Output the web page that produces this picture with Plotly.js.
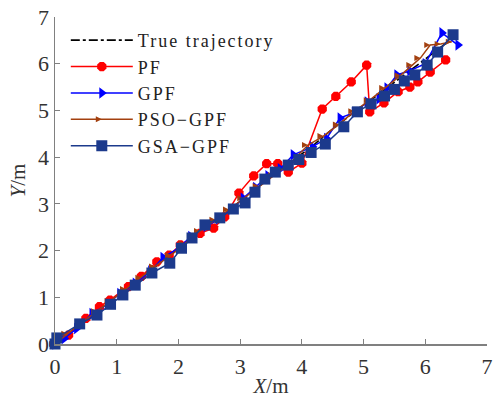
<!DOCTYPE html>
<html>
<head>
<meta charset="utf-8">
<script src="https://cdn.plot.ly/plotly-3.0.1.min.js"></script>
<style>html,body{margin:0;padding:0;background:#fff;}#chart{width:493px;height:398px;}
.legendtext{letter-spacing:2px;}</style>
</head>
<body>
<div id="chart"></div>
<script>
// True trajectory
const trueX = [0,0.2,0.45,0.7,0.95,1.2,1.45,1.7,1.95,2.2,2.45,2.7,2.95,3.2,3.45,3.7,3.95,4.2,4.45,4.7,4.95,5.2,5.45,5.7,5.95,6.2,6.35];
const trueY = [0,0.2,0.45,0.72,0.98,1.22,1.47,1.73,1.98,2.24,2.5,2.75,3.0,3.27,3.52,3.76,4.0,4.27,4.55,4.82,5.07,5.3,5.55,5.8,6.05,6.28,6.45];
// PF
const pfX = [0,0.22,0.5,0.72,0.89,1.19,1.4,1.65,1.85,2.03,2.35,2.57,2.75,2.98,3.22,3.43,3.61,3.78,4.0,4.33,4.55,4.8,5.05,5.1,5.33,5.56,5.75,5.88,6.08,6.33];
const pfY = [0,0.19,0.55,0.8,0.94,1.23,1.45,1.76,1.9,2.12,2.37,2.48,2.72,3.23,3.6,3.86,3.86,3.68,3.87,5.03,5.3,5.61,5.97,4.97,5.16,5.4,5.5,5.61,5.82,6.08];
// GPF
const gpfX = [0,0.15,0.35,0.6,0.85,1.05,1.3,1.55,1.75,2.0,2.2,2.45,2.65,2.85,3.05,3.25,3.45,3.65,3.86,4.17,4.4,4.62,4.85,5.06,5.25,5.38,5.54,5.75,6.0,6.27,6.53];
const gpfY = [0,0.12,0.33,0.65,0.85,1.08,1.3,1.56,1.85,2.05,2.3,2.52,2.68,2.88,3.12,3.35,3.6,3.75,4.05,4.22,4.4,4.84,4.95,5.18,5.25,5.48,5.76,5.85,6.0,6.66,6.4];
// PSO-GPF
const psoX = [0,0.2,0.42,0.68,0.9,1.15,1.4,1.62,1.88,2.1,2.35,2.6,2.82,3.05,3.3,3.55,3.8,4.1,4.35,4.6,4.85,5.1,5.35,5.6,5.79,5.92,6.08,6.25,6.43];
const psoY = [0,0.22,0.45,0.7,0.92,1.18,1.42,1.66,1.9,2.15,2.42,2.66,2.88,3.12,3.38,3.62,3.86,4.26,4.45,4.7,4.98,5.22,5.48,5.75,5.97,6.12,6.4,6.42,6.47];
// GSA-GPF
const gsaX = [0,0.03,0.4,0.68,0.9,1.1,1.3,1.57,1.86,2.05,2.22,2.43,2.67,2.89,3.08,3.24,3.4,3.57,3.78,3.95,4.15,4.38,4.68,4.9,5.12,5.34,5.5,5.66,5.83,6.03,6.2,6.45];
const gsaY = [0,0.13,0.43,0.62,0.85,1.05,1.26,1.52,1.73,2.05,2.27,2.55,2.7,2.89,3.02,3.25,3.53,3.68,3.83,3.95,4.1,4.28,4.65,4.97,5.14,5.31,5.45,5.63,5.76,5.97,6.25,6.62];

const serif = '"Liberation Serif", "DejaVu Serif", serif';

const traces = [
  {x: trueX, y: trueY, name: 'True trajectory', mode: 'lines',
   line: {color: '#000000', width: 1.6, dash: 'dashdot'}, cliponaxis: false},
  {x: pfX, y: pfY, name: 'PF', mode: 'lines+markers',
   line: {color: '#ff0000', width: 1.5},
   marker: {symbol: 'octagon', size: 10, color: '#ff0000'}, cliponaxis: false},
  {x: gpfX, y: gpfY, name: 'GPF', mode: 'lines+markers',
   line: {color: '#0000ff', width: 1.5},
   marker: {symbol: 'triangle-right', size: 10, color: '#0000ff'}, cliponaxis: false},
  {x: psoX, y: psoY, name: 'PSO\u2212GPF', mode: 'lines+markers',
   line: {color: '#a3400f', width: 1.5},
   marker: {symbol: 'arrow-right', size: 6, color: '#a3400f'}, cliponaxis: false},
  {x: gsaX, y: gsaY, name: 'GSA\u2212GPF', mode: 'lines+markers',
   line: {color: '#1c3a8c', width: 1.5},
   marker: {symbol: 'square', size: 11, color: '#1c3a8c'}, cliponaxis: false}
];

const axisCommon = {
  range: [0, 7], dtick: 1, tick0: 0, showgrid: false, zeroline: false,
  showline: true, linecolor: '#808080', linewidth: 1.5,
  ticks: 'inside', ticklen: 5, tickcolor: '#808080', tickwidth: 1,
  tickfont: {family: serif, size: 22, color: '#333333'}, mirror: false
};

const layout = {
  width: 493, height: 398,
  margin: {l: 55, r: 6, t: 17, b: 54},
  paper_bgcolor: '#ffffff', plot_bgcolor: '#ffffff',
  font: {family: serif, color: '#222222'},
  xaxis: Object.assign({}, axisCommon, {
    ticklabelstandoff: 2,
    title: {text: '<i>X</i>/m', font: {family: serif, size: 21, color: '#333333'}, standoff: 0}
  }),
  yaxis: Object.assign({}, axisCommon, {
    title: {text: '<i>Y</i>/m', font: {family: serif, size: 21, color: '#333333'}, standoff: 6}
  }),
  showlegend: true,
  legend: {
    x: 0.025, y: 0.985, xanchor: 'left', yanchor: 'top',
    bgcolor: 'rgba(255,255,255,0)', borderwidth: 0,
    font: {family: serif, size: 18, color: '#222222'},
    itemwidth: 62, tracegroupgap: 0
  }
};

Plotly.newPlot('chart', traces, layout, {displayModeBar: false, staticPlot: true});
</script>
</body>
</html>
